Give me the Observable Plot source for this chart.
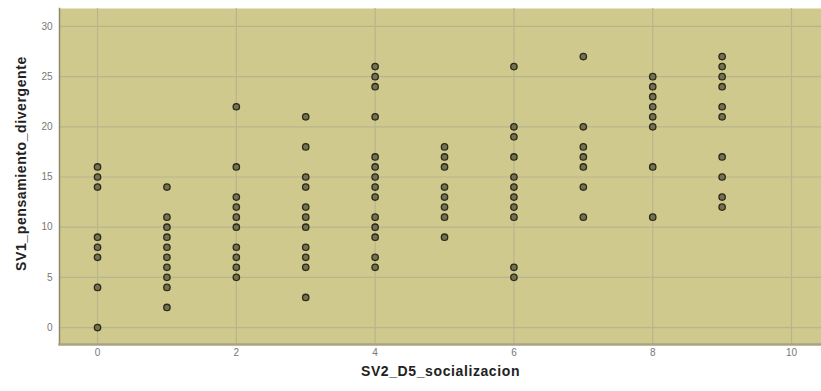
<!DOCTYPE html>
<html>
<head>
<meta charset="utf-8">
<script src="https://cdn.jsdelivr.net/npm/d3@7"></script>
<script src="https://cdn.jsdelivr.net/npm/@observablehq/plot@0.6"></script>
<style>
  html, body { margin: 0; padding: 0; background: #fff; }
  svg { display: block; }
</style>
</head>
<body>
<div id="chart"></div>
<script>
// x categories (SV2_D5_socializacion) and the y values observed at each
const xValues = [0, 1, 2, 3, 4, 5, 6, 7, 8, 9];
const yAt0 = [16, 15, 14, 9, 8, 7, 4, 0];
const yAt1 = [14, 11, 10, 9, 8, 7, 6, 5, 4, 2];
const yAt2 = [22, 16, 13, 12, 11, 10, 8, 7, 6, 5];
const yAt3 = [21, 18, 15, 14, 12, 11, 10, 8, 7, 6, 3];
const yAt4 = [26, 25, 24, 21, 17, 16, 15, 14, 13, 11, 10, 9, 7, 6];
const yAt5 = [18, 17, 16, 14, 13, 12, 11, 9];
const yAt6 = [26, 20, 19, 17, 15, 14, 13, 12, 11, 6, 5];
const yAt7 = [27, 20, 18, 17, 16, 14, 11];
const yAt8 = [25, 24, 23, 22, 21, 20, 16, 11];
const yAt9 = [27, 26, 25, 24, 22, 21, 17, 15, 13, 12];
const xTicks = [0, 2, 4, 6, 8, 10];
const yTicks = [0, 5, 10, 15, 20, 25, 30];
const xLabel = "SV2_D5_socializacion";
const yLabel = "SV1_pensamiento_divergente";

const ySeries = [yAt0, yAt1, yAt2, yAt3, yAt4, yAt5, yAt6, yAt7, yAt8, yAt9];
const points = xValues.flatMap((x, i) => ySeries[i].map(y => ({x, y})));

const bg = "#d0c98e";
const gridColor = "#bab48b";

const chart = Plot.plot({
  width: 821,
  height: 391,
  marginLeft: 59,
  marginRight: 0,
  marginTop: 8,
  marginBottom: 47,
  style: {fontFamily: "Liberation Sans, Arial, sans-serif", background: "#fff"},
  x: {domain: [-0.548, 10.432], ticks: xTicks},
  y: {domain: [-1.69, 31.79], ticks: yTicks},
  marks: [
    Plot.frame({fill: bg, stroke: null}),
    Plot.gridX(xTicks, {stroke: gridColor, strokeOpacity: 1, strokeWidth: 1.2}),
    Plot.gridY(yTicks, {stroke: gridColor, strokeOpacity: 1, strokeWidth: 1.2}),
    Plot.frame({anchor: "left", stroke: "#8f8a68", strokeWidth: 1.5}),
    Plot.frame({anchor: "bottom", stroke: "#a8a384", strokeWidth: 2.5}),
    Plot.axisX(xTicks, {tickSize: 0, tickPadding: 4, fill: "#777", fontSize: 10, label: null}),
    Plot.axisY(yTicks, {tickSize: 0, tickPadding: 7, fill: "#777", fontSize: 10, label: null}),
    Plot.dot(points, {x: "x", y: "y", r: 3.2, fill: "#747150", stroke: "#2b2a1a", strokeWidth: 1.3}),
    Plot.text([xLabel], {text: d => d, frameAnchor: "bottom", textAnchor: "middle", dy: 31, fontSize: 14, fontWeight: "bold", fill: "#222"}),
    Plot.text([yLabel], {text: d => d, frameAnchor: "left", textAnchor: "middle", dx: -38, dy: -13, rotate: -90, fontSize: 14, fontWeight: "bold", fill: "#222"})
  ]
});
// widen the axis titles slightly, as in the reference
d3.select(chart).selectAll("text").filter(function () {
  const t = this.textContent;
  return t === xLabel || t === yLabel;
}).style("letter-spacing", "0.6px");
document.getElementById("chart").appendChild(chart);
</script>
</body>
</html>
